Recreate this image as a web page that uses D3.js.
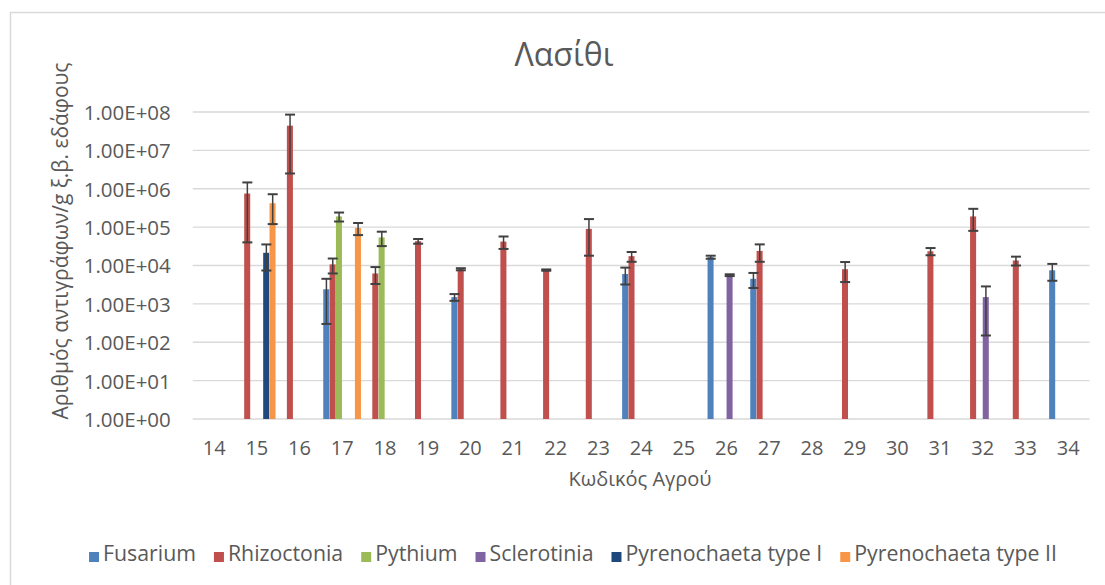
<!DOCTYPE html>
<html><head><meta charset="utf-8">
<script src="https://cdn.jsdelivr.net/npm/d3@7"></script>
<style>
html,body{margin:0;padding:0;background:#fff;}
svg text{font-family:"Open Sans",sans-serif;fill:#595959;}
</style></head>
<body><svg id="c" width="1105" height="585"></svg>
<script>
const categories = ["14","15","16","17","18","19","20","21","22","23","24","25","26","27","28","29","30","31","32","33","34"];
const seriesNames = ["Fusarium","Rhizoctonia","Pythium","Sclerotinia","Pyrenochaeta type I","Pyrenochaeta type II"];
const seriesColors = ["#4F81BD","#C0504D","#9BBB59","#8064A2","#1F497D","#F79646"];
//                   14    15     16     17    18    19    20    21    22    23    24    25    26    27    28    29    30    31    32    33    34
const fusarium    = [null, null,  null,  2400, null, null, 1500, null, null, null, 6000, null, 16500,4500, null, null, null, null, null, null, 7500];
const fusariumErr = [null, null,  null,  2100, null, null, 300,  null, null, null, 2800, null, 1500, 1900, null, null, null, null, null, null, 3500];
const rhizoctonia    = [null, 7.5e5, 4.4e7,  10700, 6200, 43000, 8000, 42000, 7600, 90000, 17500, null, null, 24000, null, 8000, null, 23500, 1.9e5, 13500, null];
const rhizoctoniaErr = [null, 7.1e5, 4.15e7, 4500,  2900, 6000,  500,  15000, 300,  72000, 5000,  null, null, 11500, null, 4300, null, 5000,  1.1e5, 3500,  null];
const pythium    = [null, null, null, 1.9e5, 54000, null, null, null, null, null, null, null, null, null, null, null, null, null, null, null, null];
const pythiumErr = [null, null, null, 50000, 22000, null, null, null, null, null, null, null, null, null, null, null, null, null, null, null, null];
const sclerotinia    = [null, null, null, null, null, null, null, null, null, null, null, null, 5600, null, null, null, null, null, 1500, null, null];
const sclerotiniaErr = [null, null, null, null, null, null, null, null, null, null, null, null, 300,  null, null, null, null, null, 1350, null, null];
const pyrI    = [null, 21400, null, null, null, null, null, null, null, null, null, null, null, null, null, null, null, null, null, null, null];
const pyrIErr = [null, 14000, null, null, null, null, null, null, null, null, null, null, null, null, null, null, null, null, null, null, null];
const pyrII    = [null, 4.2e5, null, 95000, null, null, null, null, null, null, null, null, null, null, null, null, null, null, null, null, null];
const pyrIIErr = [null, 3.0e5, null, 33000, null, null, null, null, null, null, null, null, null, null, null, null, null, null, null, null, null];
const yTickValues = [1,10,100,1e3,1e4,1e5,1e6,1e7,1e8];
const yTickLabels = ["1.00E+00","1.00E+01","1.00E+02","1.00E+03","1.00E+04","1.00E+05","1.00E+06","1.00E+07","1.00E+08"];
const titleText = "Λασίθι";
const yTitle = "Αριθμός αντιγράφων/g ξ.β. εδάφους";
const xTitle = "Κωδικός Αγρού";

const values = [fusarium, rhizoctonia, pythium, sclerotinia, pyrI, pyrII];
const errs = [fusariumErr, rhizoctoniaErr, pythiumErr, sclerotiniaErr, pyrIErr, pyrIIErr];

const svg = d3.select("#c");
// chart border
svg.append("rect").attr("x",10.5).attr("y",12.5).attr("width",1200).attr("height",700)
  .attr("fill","none").attr("stroke","#d9d9d9").attr("stroke-width",1.5);

const L = 192.8, R = 1089.5, T = 112, B = 419;
const x0 = d3.scaleBand().domain(categories).range([L, R]).padding(0);
const groupW = 38;
const x1 = d3.scaleBand().domain(seriesNames).range([0, groupW]).padding(0);
const y = d3.scaleLog().domain([1, 1e8]).range([B, T]);

// gridlines
svg.append("g").selectAll("line").data(yTickValues).join("line")
  .attr("x1", L).attr("x2", R)
  .attr("y1", d => y(d)).attr("y2", d => y(d))
  .attr("stroke", "#d9d9d9").attr("stroke-width", 1.3);

// y axis labels via axis
const yAxis = d3.axisLeft(y).tickValues(yTickValues)
  .tickFormat((d,i) => yTickLabels[i]).tickSize(0).tickPadding(22);
const gy = svg.append("g").attr("transform", `translate(${L},0)`).call(yAxis);
gy.select(".domain").remove();
gy.selectAll("text").style("font-size","20.5px").attr("fill","#595959").attr("dy","0.36em");

// x axis labels
const xAxis = d3.axisBottom(x0).tickSize(0).tickPadding(22);
const gx = svg.append("g").attr("transform", `translate(0,${B})`).call(xAxis);
gx.select(".domain").remove();
gx.selectAll("text").style("font-size","20px").attr("fill","#595959");

// bars
const off = (x0.bandwidth() - groupW) / 2;
const bw = x1.bandwidth();
values.forEach((arr, si) => {
  const g = svg.append("g");
  const pts = categories.map((c, i) => ({c, v: arr[i], e: errs[si][i]})).filter(d => d.v != null);
  g.selectAll("rect").data(pts).join("rect")
    .attr("x", d => x0(d.c) + off + x1(seriesNames[si]))
    .attr("width", bw - 0.3)
    .attr("y", d => y(d.v))
    .attr("height", d => B - y(d.v))
    .attr("fill", seriesColors[si]);
});
// error bars
values.forEach((arr, si) => {
  const g = svg.append("g");
  const pts = categories.map((c, i) => ({c, v: arr[i], e: errs[si][i]})).filter(d => d.v != null && d.e != null);
  const cx = d => x0(d.c) + off + x1(seriesNames[si]) + bw / 2;
  const hi = d => y(d.v + d.e);
  const lo = d => y(Math.max(d.v - d.e, 1));
  g.selectAll("line.v").data(pts).join("line").attr("class","v")
    .attr("x1", cx).attr("x2", cx).attr("y1", hi).attr("y2", lo)
    .attr("stroke", "#404040").attr("stroke-width", 1.5);
  g.selectAll("line.h").data(pts).join("line").attr("class","h")
    .attr("x1", d => cx(d) - 5).attr("x2", d => cx(d) + 5).attr("y1", hi).attr("y2", hi)
    .attr("stroke", "#404040").attr("stroke-width", 2);
  g.selectAll("line.l").data(pts).join("line").attr("class","l")
    .attr("x1", d => cx(d) - 5).attr("x2", d => cx(d) + 5).attr("y1", lo).attr("y2", lo)
    .attr("stroke", "#404040").attr("stroke-width", 2);
});

// title
svg.append("text").attr("x", 564).attr("y", 66).attr("text-anchor","middle")
  .style("font-size","32px").text(titleText);
// y title
svg.append("text").attr("transform","translate(68,241) rotate(-90)").attr("text-anchor","middle")
  .style("font-size","21px").text(yTitle);
// x title
svg.append("text").attr("x", 640).attr("y", 486).attr("text-anchor","middle")
  .style("font-size","20px").text(xTitle);

// legend
const lg = svg.append("g");
const items = lg.selectAll("g").data(seriesNames).join("g");
items.append("rect").attr("width", 10).attr("height", 10).attr("y", -9).attr("fill", (d,i) => seriesColors[i]);
items.append("text").attr("x", 14).attr("y", 0).style("font-size","21.3px").text(d => d);
let cur = 0;
const gap = 18;
items.each(function(d) {
  const w = 14 + d3.select(this).select("text").node().getComputedTextLength();
  d3.select(this).attr("transform", `translate(${cur},0)`);
  cur += w + gap;
});
const total = cur - gap;
lg.attr("transform", `translate(${573 - total/2},561)`);
</script></body></html>
